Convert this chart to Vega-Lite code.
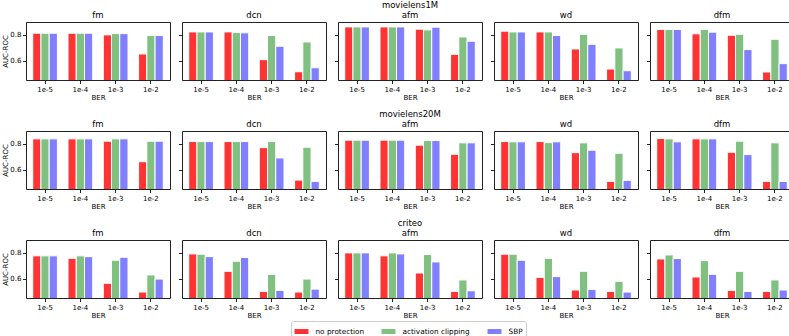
{
"$schema": "https://vega.github.io/schema/vega-lite/v6.json",
"padding": 0,
"background": "white",
"datasets": {"auc": [
{"d":"movielens1M","m":"fm","b":"1e-5","no protection":0.813,"activation clipping":0.813,"SBP":0.813},
{"d":"movielens1M","m":"fm","b":"1e-4","no protection":0.813,"activation clipping":0.813,"SBP":0.813},
{"d":"movielens1M","m":"fm","b":"1e-3","no protection":0.800,"activation clipping":0.810,"SBP":0.810},
{"d":"movielens1M","m":"fm","b":"1e-2","no protection":0.652,"activation clipping":0.795,"SBP":0.795},
{"d":"movielens1M","m":"dcn","b":"1e-5","no protection":0.823,"activation clipping":0.823,"SBP":0.823},
{"d":"movielens1M","m":"dcn","b":"1e-4","no protection":0.823,"activation clipping":0.818,"SBP":0.816},
{"d":"movielens1M","m":"dcn","b":"1e-3","no protection":0.608,"activation clipping":0.795,"SBP":0.712},
{"d":"movielens1M","m":"dcn","b":"1e-2","no protection":0.514,"activation clipping":0.745,"SBP":0.545},
{"d":"movielens1M","m":"afm","b":"1e-5","no protection":0.862,"activation clipping":0.862,"SBP":0.862},
{"d":"movielens1M","m":"afm","b":"1e-4","no protection":0.862,"activation clipping":0.862,"SBP":0.862},
{"d":"movielens1M","m":"afm","b":"1e-3","no protection":0.844,"activation clipping":0.839,"SBP":0.860},
{"d":"movielens1M","m":"afm","b":"1e-2","no protection":0.649,"activation clipping":0.784,"SBP":0.751},
{"d":"movielens1M","m":"wd","b":"1e-5","no protection":0.829,"activation clipping":0.823,"SBP":0.823},
{"d":"movielens1M","m":"wd","b":"1e-4","no protection":0.823,"activation clipping":0.823,"SBP":0.795},
{"d":"movielens1M","m":"wd","b":"1e-3","no protection":0.691,"activation clipping":0.805,"SBP":0.727},
{"d":"movielens1M","m":"wd","b":"1e-2","no protection":0.535,"activation clipping":0.699,"SBP":0.522},
{"d":"movielens1M","m":"dfm","b":"1e-5","no protection":0.842,"activation clipping":0.842,"SBP":0.842},
{"d":"movielens1M","m":"dfm","b":"1e-4","no protection":0.808,"activation clipping":0.842,"SBP":0.821},
{"d":"movielens1M","m":"dfm","b":"1e-3","no protection":0.797,"activation clipping":0.805,"SBP":0.686},
{"d":"movielens1M","m":"dfm","b":"1e-2","no protection":0.512,"activation clipping":0.766,"SBP":0.577},
{"d":"movielens20M","m":"fm","b":"1e-5","no protection":0.839,"activation clipping":0.839,"SBP":0.839},
{"d":"movielens20M","m":"fm","b":"1e-4","no protection":0.839,"activation clipping":0.839,"SBP":0.839},
{"d":"movielens20M","m":"fm","b":"1e-3","no protection":0.821,"activation clipping":0.839,"SBP":0.839},
{"d":"movielens20M","m":"fm","b":"1e-2","no protection":0.662,"activation clipping":0.821,"SBP":0.821},
{"d":"movielens20M","m":"dcn","b":"1e-5","no protection":0.818,"activation clipping":0.818,"SBP":0.818},
{"d":"movielens20M","m":"dcn","b":"1e-4","no protection":0.818,"activation clipping":0.818,"SBP":0.818},
{"d":"movielens20M","m":"dcn","b":"1e-3","no protection":0.771,"activation clipping":0.818,"SBP":0.691},
{"d":"movielens20M","m":"dcn","b":"1e-2","no protection":0.519,"activation clipping":0.774,"SBP":0.509},
{"d":"movielens20M","m":"afm","b":"1e-5","no protection":0.829,"activation clipping":0.829,"SBP":0.829},
{"d":"movielens20M","m":"afm","b":"1e-4","no protection":0.829,"activation clipping":0.829,"SBP":0.829},
{"d":"movielens20M","m":"afm","b":"1e-3","no protection":0.790,"activation clipping":0.826,"SBP":0.826},
{"d":"movielens20M","m":"afm","b":"1e-2","no protection":0.719,"activation clipping":0.808,"SBP":0.808},
{"d":"movielens20M","m":"wd","b":"1e-5","no protection":0.818,"activation clipping":0.816,"SBP":0.816},
{"d":"movielens20M","m":"wd","b":"1e-4","no protection":0.818,"activation clipping":0.810,"SBP":0.816},
{"d":"movielens20M","m":"wd","b":"1e-3","no protection":0.732,"activation clipping":0.808,"SBP":0.751},
{"d":"movielens20M","m":"wd","b":"1e-2","no protection":0.509,"activation clipping":0.727,"SBP":0.517},
{"d":"movielens20M","m":"dfm","b":"1e-5","no protection":0.842,"activation clipping":0.839,"SBP":0.816},
{"d":"movielens20M","m":"dfm","b":"1e-4","no protection":0.839,"activation clipping":0.839,"SBP":0.839},
{"d":"movielens20M","m":"dfm","b":"1e-3","no protection":0.735,"activation clipping":0.821,"SBP":0.717},
{"d":"movielens20M","m":"dfm","b":"1e-2","no protection":0.509,"activation clipping":0.808,"SBP":0.509},
{"d":"criteo","m":"fm","b":"1e-5","no protection":0.777,"activation clipping":0.777,"SBP":0.777},
{"d":"criteo","m":"fm","b":"1e-4","no protection":0.758,"activation clipping":0.777,"SBP":0.771},
{"d":"criteo","m":"fm","b":"1e-3","no protection":0.564,"activation clipping":0.743,"SBP":0.766},
{"d":"criteo","m":"fm","b":"1e-2","no protection":0.496,"activation clipping":0.629,"SBP":0.597},
{"d":"criteo","m":"dcn","b":"1e-5","no protection":0.792,"activation clipping":0.790,"SBP":0.771},
{"d":"criteo","m":"dcn","b":"1e-4","no protection":0.657,"activation clipping":0.735,"SBP":0.764},
{"d":"criteo","m":"dcn","b":"1e-3","no protection":0.501,"activation clipping":0.634,"SBP":0.509},
{"d":"criteo","m":"dcn","b":"1e-2","no protection":0.496,"activation clipping":0.597,"SBP":0.519},
{"d":"criteo","m":"afm","b":"1e-5","no protection":0.800,"activation clipping":0.800,"SBP":0.800},
{"d":"criteo","m":"afm","b":"1e-4","no protection":0.777,"activation clipping":0.800,"SBP":0.792},
{"d":"criteo","m":"afm","b":"1e-3","no protection":0.644,"activation clipping":0.787,"SBP":0.730},
{"d":"criteo","m":"afm","b":"1e-2","no protection":0.501,"activation clipping":0.590,"SBP":0.506},
{"d":"criteo","m":"wd","b":"1e-5","no protection":0.790,"activation clipping":0.790,"SBP":0.743},
{"d":"criteo","m":"wd","b":"1e-4","no protection":0.610,"activation clipping":0.758,"SBP":0.616},
{"d":"criteo","m":"wd","b":"1e-3","no protection":0.512,"activation clipping":0.657,"SBP":0.517},
{"d":"criteo","m":"wd","b":"1e-2","no protection":0.501,"activation clipping":0.579,"SBP":0.496},
{"d":"criteo","m":"dfm","b":"1e-5","no protection":0.753,"activation clipping":0.784,"SBP":0.756},
{"d":"criteo","m":"dfm","b":"1e-4","no protection":0.613,"activation clipping":0.740,"SBP":0.634},
{"d":"criteo","m":"dfm","b":"1e-3","no protection":0.509,"activation clipping":0.657,"SBP":0.501},
{"d":"criteo","m":"dfm","b":"1e-2","no protection":0.501,"activation clipping":0.590,"SBP":0.512}
]},
"config": {
  "font": "DejaVu Sans",
  "view": {"stroke": "#222", "strokeWidth": 1},
  "title": {"font": "DejaVu Sans", "fontSize": 8.5, "fontWeight": "normal", "color": "black", "offset": 3, "lineHeight": 10, "anchor": "middle"},
  "axis": {"labelFont": "DejaVu Sans", "titleFont": "DejaVu Sans", "labelFontSize": 7, "titleFontSize": 7, "titleFontWeight": "normal", "labelColor": "black", "titleColor": "black", "tickColor": "#222", "tickSize": 3.5, "labelPadding": 1.5, "titlePadding": 1.5, "domain": false, "grid": false, "minExtent": 0},
  "legend": {"orient": "none", "legendX": 265, "legendY": 299, "direction": "horizontal", "title": null, "labelFont": "DejaVu Sans", "labelFontSize": 7.3, "labelColor": "black", "symbolType": "M-1,-0.4H1V0.4H-1Z", "symbolSize": 225, "symbolStrokeWidth": 0, "symbolOpacity": 1, "strokeColor": "#ccc", "fillColor": "white", "padding": 2.5, "cornerRadius": 2, "columnPadding": 14, "labelOffset": 6},
  "bar": {"stroke": "white", "strokeWidth": 1}
},
"data": {"name": "auc"},
"transform": [{"fold": ["no protection", "activation clipping", "SBP"], "as": ["method", "v"]}],
"spacing": 8,
"vconcat": [
 {"spacing": 6, "hconcat": [
  {"width":144,"height":58,"title":{"text":[" ","fm"]},"transform":[{"filter":"datum.d==='movielens1M' && datum.m==='fm'"}],"mark":{"type":"bar","clip":true},"encoding":{"x":{"field":"b","type":"nominal","sort":["1e-5","1e-4","1e-3","1e-2"],"scale":{"paddingInner":0.3,"paddingOuter":0.19},"axis":{"title":"BER","labelAngle":0}},"xOffset":{"field":"method","type":"nominal","sort":["no protection","activation clipping","SBP"]},"y":{"field":"v","type":"quantitative","scale":{"domain":[0.45,0.9],"zero":false,"nice":false},"axis":{"values":[0.6,0.8],"title":"AUC-ROC"}},"color":{"field":"method","type":"nominal","sort":["no protection","activation clipping","SBP"],"scale":{"domain":["no protection","activation clipping","SBP"],"range":["#ff3333","#80c080","#8080ff"]}}}},
  {"width":144,"height":58,"title":{"text":[" ","dcn"]},"transform":[{"filter":"datum.d==='movielens1M' && datum.m==='dcn'"}],"mark":{"type":"bar","clip":true},"encoding":{"x":{"field":"b","type":"nominal","sort":["1e-5","1e-4","1e-3","1e-2"],"scale":{"paddingInner":0.3,"paddingOuter":0.19},"axis":{"title":"BER","labelAngle":0}},"xOffset":{"field":"method","type":"nominal","sort":["no protection","activation clipping","SBP"]},"y":{"field":"v","type":"quantitative","scale":{"domain":[0.45,0.9],"zero":false,"nice":false},"axis":{"values":[0.6,0.8],"title":null,"labels":false}},"color":{"field":"method","type":"nominal","sort":["no protection","activation clipping","SBP"],"scale":{"domain":["no protection","activation clipping","SBP"],"range":["#ff3333","#80c080","#8080ff"]}}}},
  {"width":144,"height":58,"title":{"text":["movielens1M","afm"]},"transform":[{"filter":"datum.d==='movielens1M' && datum.m==='afm'"}],"mark":{"type":"bar","clip":true},"encoding":{"x":{"field":"b","type":"nominal","sort":["1e-5","1e-4","1e-3","1e-2"],"scale":{"paddingInner":0.3,"paddingOuter":0.19},"axis":{"title":"BER","labelAngle":0}},"xOffset":{"field":"method","type":"nominal","sort":["no protection","activation clipping","SBP"]},"y":{"field":"v","type":"quantitative","scale":{"domain":[0.45,0.9],"zero":false,"nice":false},"axis":{"values":[0.6,0.8],"title":null,"labels":false}},"color":{"field":"method","type":"nominal","sort":["no protection","activation clipping","SBP"],"scale":{"domain":["no protection","activation clipping","SBP"],"range":["#ff3333","#80c080","#8080ff"]}}}},
  {"width":144,"height":58,"title":{"text":[" ","wd"]},"transform":[{"filter":"datum.d==='movielens1M' && datum.m==='wd'"}],"mark":{"type":"bar","clip":true},"encoding":{"x":{"field":"b","type":"nominal","sort":["1e-5","1e-4","1e-3","1e-2"],"scale":{"paddingInner":0.3,"paddingOuter":0.19},"axis":{"title":"BER","labelAngle":0}},"xOffset":{"field":"method","type":"nominal","sort":["no protection","activation clipping","SBP"]},"y":{"field":"v","type":"quantitative","scale":{"domain":[0.45,0.9],"zero":false,"nice":false},"axis":{"values":[0.6,0.8],"title":null,"labels":false}},"color":{"field":"method","type":"nominal","sort":["no protection","activation clipping","SBP"],"scale":{"domain":["no protection","activation clipping","SBP"],"range":["#ff3333","#80c080","#8080ff"]}}}},
  {"width":144,"height":58,"title":{"text":[" ","dfm"]},"transform":[{"filter":"datum.d==='movielens1M' && datum.m==='dfm'"}],"mark":{"type":"bar","clip":true},"encoding":{"x":{"field":"b","type":"nominal","sort":["1e-5","1e-4","1e-3","1e-2"],"scale":{"paddingInner":0.3,"paddingOuter":0.19},"axis":{"title":"BER","labelAngle":0}},"xOffset":{"field":"method","type":"nominal","sort":["no protection","activation clipping","SBP"]},"y":{"field":"v","type":"quantitative","scale":{"domain":[0.45,0.9],"zero":false,"nice":false},"axis":{"values":[0.6,0.8],"title":null,"labels":false}},"color":{"field":"method","type":"nominal","sort":["no protection","activation clipping","SBP"],"scale":{"domain":["no protection","activation clipping","SBP"],"range":["#ff3333","#80c080","#8080ff"]}}}}
 ]},
 {"spacing": 6, "hconcat": [
  {"width":144,"height":58,"title":{"text":[" ","fm"]},"transform":[{"filter":"datum.d==='movielens20M' && datum.m==='fm'"}],"mark":{"type":"bar","clip":true},"encoding":{"x":{"field":"b","type":"nominal","sort":["1e-5","1e-4","1e-3","1e-2"],"scale":{"paddingInner":0.3,"paddingOuter":0.19},"axis":{"title":"BER","labelAngle":0}},"xOffset":{"field":"method","type":"nominal","sort":["no protection","activation clipping","SBP"]},"y":{"field":"v","type":"quantitative","scale":{"domain":[0.45,0.9],"zero":false,"nice":false},"axis":{"values":[0.6,0.8],"title":"AUC-ROC"}},"color":{"field":"method","type":"nominal","sort":["no protection","activation clipping","SBP"],"scale":{"domain":["no protection","activation clipping","SBP"],"range":["#ff3333","#80c080","#8080ff"]}}}},
  {"width":144,"height":58,"title":{"text":[" ","dcn"]},"transform":[{"filter":"datum.d==='movielens20M' && datum.m==='dcn'"}],"mark":{"type":"bar","clip":true},"encoding":{"x":{"field":"b","type":"nominal","sort":["1e-5","1e-4","1e-3","1e-2"],"scale":{"paddingInner":0.3,"paddingOuter":0.19},"axis":{"title":"BER","labelAngle":0}},"xOffset":{"field":"method","type":"nominal","sort":["no protection","activation clipping","SBP"]},"y":{"field":"v","type":"quantitative","scale":{"domain":[0.45,0.9],"zero":false,"nice":false},"axis":{"values":[0.6,0.8],"title":null,"labels":false}},"color":{"field":"method","type":"nominal","sort":["no protection","activation clipping","SBP"],"scale":{"domain":["no protection","activation clipping","SBP"],"range":["#ff3333","#80c080","#8080ff"]}}}},
  {"width":144,"height":58,"title":{"text":["movielens20M","afm"]},"transform":[{"filter":"datum.d==='movielens20M' && datum.m==='afm'"}],"mark":{"type":"bar","clip":true},"encoding":{"x":{"field":"b","type":"nominal","sort":["1e-5","1e-4","1e-3","1e-2"],"scale":{"paddingInner":0.3,"paddingOuter":0.19},"axis":{"title":"BER","labelAngle":0}},"xOffset":{"field":"method","type":"nominal","sort":["no protection","activation clipping","SBP"]},"y":{"field":"v","type":"quantitative","scale":{"domain":[0.45,0.9],"zero":false,"nice":false},"axis":{"values":[0.6,0.8],"title":null,"labels":false}},"color":{"field":"method","type":"nominal","sort":["no protection","activation clipping","SBP"],"scale":{"domain":["no protection","activation clipping","SBP"],"range":["#ff3333","#80c080","#8080ff"]}}}},
  {"width":144,"height":58,"title":{"text":[" ","wd"]},"transform":[{"filter":"datum.d==='movielens20M' && datum.m==='wd'"}],"mark":{"type":"bar","clip":true},"encoding":{"x":{"field":"b","type":"nominal","sort":["1e-5","1e-4","1e-3","1e-2"],"scale":{"paddingInner":0.3,"paddingOuter":0.19},"axis":{"title":"BER","labelAngle":0}},"xOffset":{"field":"method","type":"nominal","sort":["no protection","activation clipping","SBP"]},"y":{"field":"v","type":"quantitative","scale":{"domain":[0.45,0.9],"zero":false,"nice":false},"axis":{"values":[0.6,0.8],"title":null,"labels":false}},"color":{"field":"method","type":"nominal","sort":["no protection","activation clipping","SBP"],"scale":{"domain":["no protection","activation clipping","SBP"],"range":["#ff3333","#80c080","#8080ff"]}}}},
  {"width":144,"height":58,"title":{"text":[" ","dfm"]},"transform":[{"filter":"datum.d==='movielens20M' && datum.m==='dfm'"}],"mark":{"type":"bar","clip":true},"encoding":{"x":{"field":"b","type":"nominal","sort":["1e-5","1e-4","1e-3","1e-2"],"scale":{"paddingInner":0.3,"paddingOuter":0.19},"axis":{"title":"BER","labelAngle":0}},"xOffset":{"field":"method","type":"nominal","sort":["no protection","activation clipping","SBP"]},"y":{"field":"v","type":"quantitative","scale":{"domain":[0.45,0.9],"zero":false,"nice":false},"axis":{"values":[0.6,0.8],"title":null,"labels":false}},"color":{"field":"method","type":"nominal","sort":["no protection","activation clipping","SBP"],"scale":{"domain":["no protection","activation clipping","SBP"],"range":["#ff3333","#80c080","#8080ff"]}}}}
 ]},
 {"spacing": 6, "hconcat": [
  {"width":144,"height":58,"title":{"text":[" ","fm"]},"transform":[{"filter":"datum.d==='criteo' && datum.m==='fm'"}],"mark":{"type":"bar","clip":true},"encoding":{"x":{"field":"b","type":"nominal","sort":["1e-5","1e-4","1e-3","1e-2"],"scale":{"paddingInner":0.3,"paddingOuter":0.19},"axis":{"title":"BER","labelAngle":0}},"xOffset":{"field":"method","type":"nominal","sort":["no protection","activation clipping","SBP"]},"y":{"field":"v","type":"quantitative","scale":{"domain":[0.45,0.9],"zero":false,"nice":false},"axis":{"values":[0.6,0.8],"title":"AUC-ROC"}},"color":{"field":"method","type":"nominal","sort":["no protection","activation clipping","SBP"],"scale":{"domain":["no protection","activation clipping","SBP"],"range":["#ff3333","#80c080","#8080ff"]}}}},
  {"width":144,"height":58,"title":{"text":[" ","dcn"]},"transform":[{"filter":"datum.d==='criteo' && datum.m==='dcn'"}],"mark":{"type":"bar","clip":true},"encoding":{"x":{"field":"b","type":"nominal","sort":["1e-5","1e-4","1e-3","1e-2"],"scale":{"paddingInner":0.3,"paddingOuter":0.19},"axis":{"title":"BER","labelAngle":0}},"xOffset":{"field":"method","type":"nominal","sort":["no protection","activation clipping","SBP"]},"y":{"field":"v","type":"quantitative","scale":{"domain":[0.45,0.9],"zero":false,"nice":false},"axis":{"values":[0.6,0.8],"title":null,"labels":false}},"color":{"field":"method","type":"nominal","sort":["no protection","activation clipping","SBP"],"scale":{"domain":["no protection","activation clipping","SBP"],"range":["#ff3333","#80c080","#8080ff"]}}}},
  {"width":144,"height":58,"title":{"text":["criteo","afm"]},"transform":[{"filter":"datum.d==='criteo' && datum.m==='afm'"}],"mark":{"type":"bar","clip":true},"encoding":{"x":{"field":"b","type":"nominal","sort":["1e-5","1e-4","1e-3","1e-2"],"scale":{"paddingInner":0.3,"paddingOuter":0.19},"axis":{"title":"BER","labelAngle":0}},"xOffset":{"field":"method","type":"nominal","sort":["no protection","activation clipping","SBP"]},"y":{"field":"v","type":"quantitative","scale":{"domain":[0.45,0.9],"zero":false,"nice":false},"axis":{"values":[0.6,0.8],"title":null,"labels":false}},"color":{"field":"method","type":"nominal","sort":["no protection","activation clipping","SBP"],"scale":{"domain":["no protection","activation clipping","SBP"],"range":["#ff3333","#80c080","#8080ff"]}}}},
  {"width":144,"height":58,"title":{"text":[" ","wd"]},"transform":[{"filter":"datum.d==='criteo' && datum.m==='wd'"}],"mark":{"type":"bar","clip":true},"encoding":{"x":{"field":"b","type":"nominal","sort":["1e-5","1e-4","1e-3","1e-2"],"scale":{"paddingInner":0.3,"paddingOuter":0.19},"axis":{"title":"BER","labelAngle":0}},"xOffset":{"field":"method","type":"nominal","sort":["no protection","activation clipping","SBP"]},"y":{"field":"v","type":"quantitative","scale":{"domain":[0.45,0.9],"zero":false,"nice":false},"axis":{"values":[0.6,0.8],"title":null,"labels":false}},"color":{"field":"method","type":"nominal","sort":["no protection","activation clipping","SBP"],"scale":{"domain":["no protection","activation clipping","SBP"],"range":["#ff3333","#80c080","#8080ff"]}}}},
  {"width":144,"height":58,"title":{"text":[" ","dfm"]},"transform":[{"filter":"datum.d==='criteo' && datum.m==='dfm'"}],"mark":{"type":"bar","clip":true},"encoding":{"x":{"field":"b","type":"nominal","sort":["1e-5","1e-4","1e-3","1e-2"],"scale":{"paddingInner":0.3,"paddingOuter":0.19},"axis":{"title":"BER","labelAngle":0}},"xOffset":{"field":"method","type":"nominal","sort":["no protection","activation clipping","SBP"]},"y":{"field":"v","type":"quantitative","scale":{"domain":[0.45,0.9],"zero":false,"nice":false},"axis":{"values":[0.6,0.8],"title":null,"labels":false}},"color":{"field":"method","type":"nominal","sort":["no protection","activation clipping","SBP"],"scale":{"domain":["no protection","activation clipping","SBP"],"range":["#ff3333","#80c080","#8080ff"]}}}}
 ]}
]
}
